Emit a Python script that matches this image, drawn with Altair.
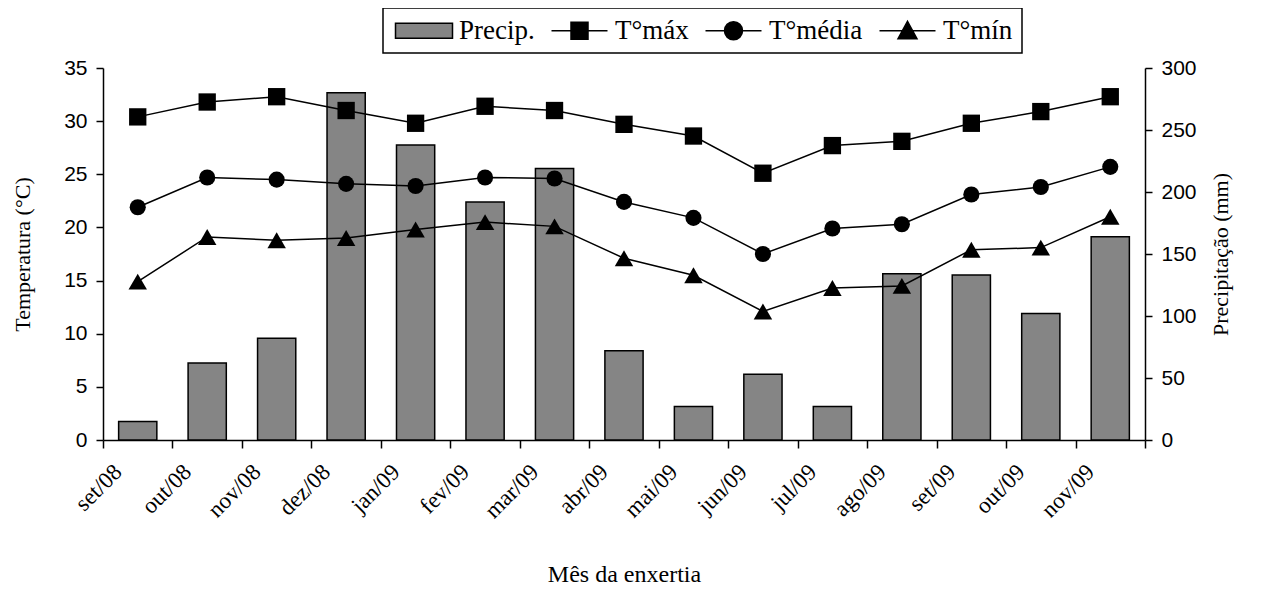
import altair as alt
import pandas as pd

meses = ["set/08", "out/08", "nov/08", "dez/08", "jan/09", "fev/09", "mar/09",
         "abr/09", "mai/09", "jun/09", "jul/09", "ago/09", "set/09", "out/09", "nov/09"]
precip = [15, 62, 82, 280, 238, 192, 219, 72, 27, 53, 27, 134, 133, 102, 164]
tmax = [30.4, 31.8, 32.3, 31.0, 29.8, 31.4, 31.0, 29.7, 28.6, 25.1, 27.7, 28.1, 29.8, 30.9, 32.3]
tmed = [21.9, 24.7, 24.5, 24.1, 23.9, 24.7, 24.6, 22.4, 20.9, 17.5, 19.9, 20.3, 23.1, 23.8, 25.7]
tmin = [14.9, 19.1, 18.8, 19.0, 19.8, 20.5, 20.1, 17.1, 15.5, 12.1, 14.3, 14.5, 17.9, 18.1, 21.0]
series = ["Precip.", "T°máx", "T°média", "T°mín"]

df_p = pd.DataFrame({"mes": meses, "precip": precip})
df_t = pd.concat([
    pd.DataFrame({"mes": meses, "temp": tmax, "serie": series[1]}),
    pd.DataFrame({"mes": meses, "temp": tmed, "serie": series[2]}),
    pd.DataFrame({"mes": meses, "temp": tmin, "serie": series[3]}),
], ignore_index=True)

# legend symbols (unit coords, scaled by sqrt(symbolSize)/2)
legend_paths = [
    "M-1,-0.75H4.7V0.75H-1Z",
    "M-1,0H4.6M0.95,-0.85H2.65V0.85H0.95Z",
    "M-1,0H4.6M0.9,0A0.9,0.9 0 1,1 2.7,0A0.9,0.9 0 1,1 0.9,0Z",
    "M-1,0H4.6M1.8,-0.95L2.75,0.8H0.85Z",
]
fills = ["#858585", "black", "black", "black"]

x_enc = alt.X(
    "mes:N", sort=meses,
    scale=alt.Scale(type="band", paddingInner=0, paddingOuter=0),
    axis=alt.Axis(
        title="Mês da enxertia", tickBand="extent", labelAngle=315,
        labelAlign="right", labelBaseline="middle", labelPadding=20, labelOffset=-20,
        labelFont="Liberation Serif", labelFontSize=23, labelColor="black",
        titleFont="Liberation Serif", titleFontSize=24, titleFontWeight="normal",
        titleColor="black", titlePadding=40,
        domainColor="black", domainWidth=1.5, tickColor="black", tickWidth=1.5,
        tickSize=8, grid=False,
    ),
)

bars = alt.Chart(df_p).mark_bar(
    width=alt.RelativeBandSize(0.55), fill="#858585", stroke="black",
    strokeWidth=1.5, opacity=1,
).encode(
    x=x_enc,
    y=alt.Y("precip:Q", scale=alt.Scale(domain=[0, 300], nice=False),
            axis=alt.Axis(orient="right", values=list(range(0, 301, 50)),
                          title="Precipitação (mm)", titleAngle=270,
                          labelFont="Liberation Sans", labelFontSize=21, labelColor="black",
                          titleFont="Liberation Serif", titleFontSize=22,
                          titleFontWeight="normal", titleColor="black", titlePadding=36,
                          domainColor="black", domainWidth=1.5, tickColor="black",
                          tickWidth=1.5, tickSize=7, labelPadding=9, grid=False)),
)

y_axis = alt.Axis(orient="left", values=list(range(0, 36, 5)),
                  title="Temperatura (°C)",
                  labelFont="Liberation Sans", labelFontSize=21, labelColor="black",
                  titleFont="Liberation Serif", titleFontSize=22,
                  titleFontWeight="normal", titleColor="black", titlePadding=29,
                  domainColor="black", domainWidth=1.5, tickColor="black",
                  tickWidth=1.5, tickSize=7, labelPadding=9, grid=False)
y_scale = alt.Scale(domain=[0, 35], nice=False)
y_temp = alt.Y("temp:Q", scale=y_scale, axis=y_axis)

lines = alt.Chart(df_t).mark_line(color="black", strokeWidth=1.5).encode(
    x=x_enc, y=y_temp, detail="serie:N"
)

shapes = {"T°máx": ("square", 300), "T°média": ("circle", 260), "T°mín": ("triangle-up", 340)}
point_layers = []
for s, (shp, sz) in shapes.items():
    point_layers.append(
        alt.Chart(df_t).transform_filter(alt.datum.serie == s)
        .mark_point(shape=shp, size=sz, filled=True, color="black", opacity=1)
        .encode(x=x_enc, y=y_temp)
    )

leg = alt.Legend(
    title=None, orient="none", legendX=280, legendY=-60, direction="horizontal",
    columns=4, symbolSize=400, symbolOpacity=1, symbolStrokeWidth=1.5,
    labelFont="Liberation Serif", labelFontSize=27, labelColor="black",
    labelOffset=40, columnPadding=13, padding=9, strokeColor="black",
)

legend_layer = alt.Chart(df_t).mark_point(filled=True, opacity=0).encode(
    x=x_enc, y=y_temp,
    shape=alt.Shape("serie:N", scale=alt.Scale(domain=series, range=legend_paths), legend=leg),
    fill=alt.Fill("serie:N", scale=alt.Scale(domain=series, range=fills), legend=leg),
    stroke=alt.value("black"),
)

temps = alt.layer(lines, *point_layers, legend_layer)

chart = alt.layer(bars, temps).resolve_scale(
    y="independent"
).properties(
    width=1042, height=372,
    autosize=alt.AutoSizeParams(type="none"),
    padding={"left": 95, "top": 60, "right": 113, "bottom": 146},
    background="white",
).configure_view(stroke=None).configure_legend(strokeWidth=1.5)

chart.save("out.html", embed_options={"renderer": "svg", "actions": False})
